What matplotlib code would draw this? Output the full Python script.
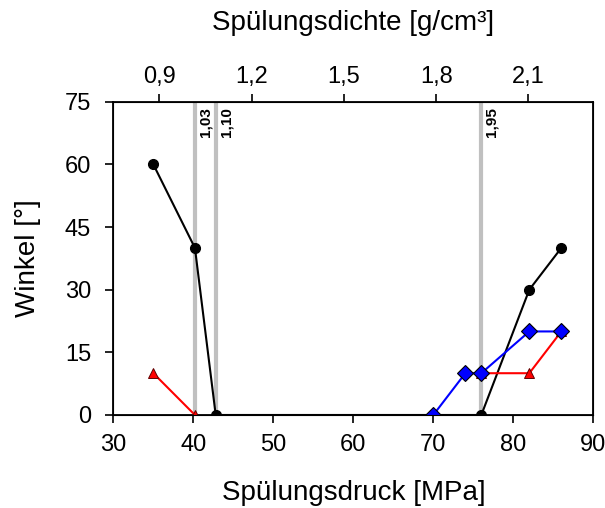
import matplotlib.pyplot as plt
import numpy as np

plt.rcParams['font.family'] = ['Liberation Sans', 'DejaVu Sans']

# Spülungsdruck [MPa] vs. Winkel [°]
black_x = [35, 40.2, 42.8, 76, 82, 86]
black_y = [60, 40, 0, 0, 30, 40]

red_x = [35, 40.2, np.nan, 76, 82, 86]
red_y = [10, 0, np.nan, 10, 10, 20]

blue_x = [70, 74, 76, 82, 86]
blue_y = [0, 10, 10, 20, 20]

# markierte Dichten (g/cm³) und zugehöriger Druck (MPa)
dens_labels = ['1,03', '1,10', '1,95']
dens_press = [40.2, 42.8, 76]

top_ticks = [0.9, 1.2, 1.5, 1.8, 2.1]
top_labels = ['0,9', '1,2', '1,5', '1,8', '2,1']

fig = plt.figure(figsize=(6.05, 5.08), dpi=100)
ax = fig.add_axes([0.1873, 0.1831, 0.7934, 0.6167])

for p, lab in zip(dens_press, dens_labels):
    ax.axvline(p, color='#c0c0c0', lw=3, zorder=1)
    ax.text(p + 0.45, 73.8, lab, rotation=90, ha='left', va='top',
            fontsize=11, fontweight='bold', zorder=2)

ax.plot(black_x, black_y, color='black', lw=1.5, marker='o', ms=7, zorder=3)
ax.plot(red_x, red_y, color='red', lw=1.5, marker='^', ms=6.5,
        mfc='red', mec='#600000', mew=0.7, zorder=3)
ax.plot(blue_x, blue_y, color='blue', lw=1.5, marker='D', ms=8.5,
        mfc='blue', mec='black', mew=0.8, zorder=4)

ax.set_xlim(30, 90)
ax.set_ylim(0, 75)
ax.set_xticks(range(30, 91, 10))
ax.set_yticks(range(0, 76, 15))
ax.tick_params(labelsize=17, direction='out', length=6, width=1.2)
ax.tick_params(axis='x', pad=8)
ax.tick_params(axis='y', pad=10)
ax.set_xlabel('Spülungsdruck [MPa]', fontsize=20, labelpad=17)
ax.set_ylabel('Winkel [°]', fontsize=20, labelpad=17)
for s in ax.spines.values():
    s.set_linewidth(1.3)

ax2 = ax.twiny()
ax2.set_xlim(0.7505, 2.311)
ax2.set_xticks(top_ticks)
ax2.set_xticklabels(top_labels)
ax2.tick_params(labelsize=17, direction='out', length=6, width=1.2, pad=4)
ax2.set_xlabel('Spülungsdichte [g/cm³]', fontsize=20, labelpad=26)

fig.savefig('out.png', dpi=100)
